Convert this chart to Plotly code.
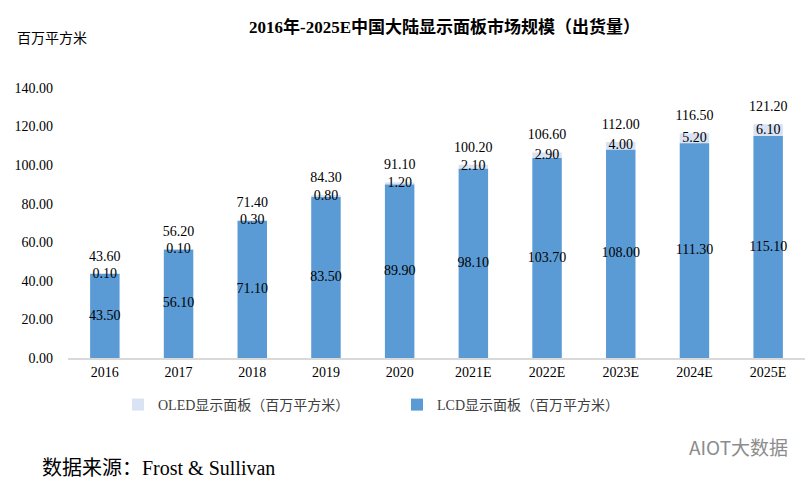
import plotly.graph_objects as go

years = ["2016", "2017", "2018", "2019", "2020", "2021E", "2022E", "2023E", "2024E", "2025E"]
lcd = [43.50, 56.10, 71.10, 83.50, 89.90, 98.10, 103.70, 108.00, 111.30, 115.10]
oled = [0.10, 0.10, 0.30, 0.80, 1.20, 2.10, 2.90, 4.00, 5.20, 6.10]
total = [43.60, 56.20, 71.40, 84.30, 91.10, 100.20, 106.60, 112.00, 116.50, 121.20]

FONT = "Liberation Serif, Times New Roman, Noto Sans CJK SC, serif"
LCD_COLOR = "#5B9BD5"
OLED_COLOR = "#DAE3F3"
W, H = 808, 487
ML, MR, MT, MB = 68, 3, 88, 129
PW = W - ML - MR
PH = H - MT - MB

fig = go.Figure()
fig.add_trace(go.Bar(
    x=years, y=oled, base=lcd, name="OLED显示面板（百万平方米）",
    marker=dict(color=OLED_COLOR, line=dict(width=0)),
    textposition="none", hoverinfo="skip",
))
fig.add_trace(go.Bar(
    x=years, y=lcd, name="LCD显示面板（百万平方米）",
    marker=dict(color=LCD_COLOR, line=dict(width=0)),
    textposition="none",
))
# LCD labels centred in the segment
fig.add_trace(go.Scatter(
    x=years, y=[v / 2 for v in lcd],
    mode="text", text=[f"{v:.2f}" for v in lcd],
    textposition="middle center",
    textfont=dict(family=FONT, size=14, color="#000000"),
    showlegend=False, hoverinfo="skip",
))
# OLED segment labels, centred on the segment
fig.add_trace(go.Scatter(
    x=years, y=[l + o / 2 for l, o in zip(lcd, oled)],
    mode="text", text=[f"{v:.2f}" for v in oled],
    textposition="middle center",
    textfont=dict(family=FONT, size=14, color="#000000"),
    showlegend=False, hoverinfo="skip",
))
# Totals above bars
fig.add_trace(go.Scatter(
    x=years, y=total,
    mode="markers+text", text=[f"{v:.2f}" for v in total],
    marker=dict(size=14, opacity=0),
    textposition="top center",
    textfont=dict(family=FONT, size=14, color="#000000"),
    showlegend=False, hoverinfo="skip",
))

fig.update_layout(
    width=W, height=H,
    barmode="overlay", bargap=0.6,
    plot_bgcolor="white", paper_bgcolor="white",
    margin=dict(l=ML, r=MR, t=MT, b=MB),
    font=dict(family=FONT, size=14, color="#000000"),
    legend=dict(
        orientation="h", x=(118 - ML) / PW, xanchor="left",
        y=-(405 - MT - PH) / PH, yanchor="middle",
        font=dict(family=FONT, size=14, color="#404040"),
        itemwidth=30, entrywidth=234, traceorder="normal",
    ),
    showlegend=True,
)
fig.update_yaxes(
    range=[0, 140], dtick=20, tickformat=".2f",
    showgrid=False, zeroline=False, showline=False,
    ticks="", ticklabelstandoff=14,
    tickfont=dict(family=FONT, size=14, color="#000000"),
)
fig.update_xaxes(
    range=[-0.5, len(years) - 0.5],
    showgrid=False, showline=True, linecolor="#D9D9D9", linewidth=2,
    ticks="", tickfont=dict(family=FONT, size=14, color="#000000"),
)

fig.add_annotation(
    text="<b>2016年-2025E中国大陆显示面板市场规模（出货量）</b>",
    xref="paper", yref="paper", x=(444 - ML) / PW, y=1,
    yshift=MT - 27, xanchor="center", yanchor="middle", showarrow=False,
    font=dict(family=FONT, size=17, color="#000000"),
)
fig.add_annotation(
    text="百万平方米", xref="paper", yref="paper",
    x=(15 - ML) / PW, y=1, yshift=MT - 38,
    xanchor="left", yanchor="middle", showarrow=False,
    font=dict(family=FONT, size=14, color="#000000"),
)
fig.add_annotation(
    text="数据来源：Frost & Sullivan", xref="paper", yref="paper",
    x=(40 - ML) / PW, y=0, yshift=-(468 - MT - PH),
    xanchor="left", yanchor="middle", showarrow=False,
    font=dict(family=FONT, size=20, color="#000000"),
)
fig.add_annotation(
    text="AIOT大数据", xref="paper", yref="paper",
    x=(790 - ML) / PW, y=0, yshift=-(446 - MT - PH),
    xanchor="right", yanchor="middle", showarrow=False,
    font=dict(family="Noto Sans CJK SC, sans-serif", size=19, color="#8C8C8C"),
)

fig.write_html("out.html", config={"displayModeBar": False},
               post_script="document.body.style.margin='0';")
